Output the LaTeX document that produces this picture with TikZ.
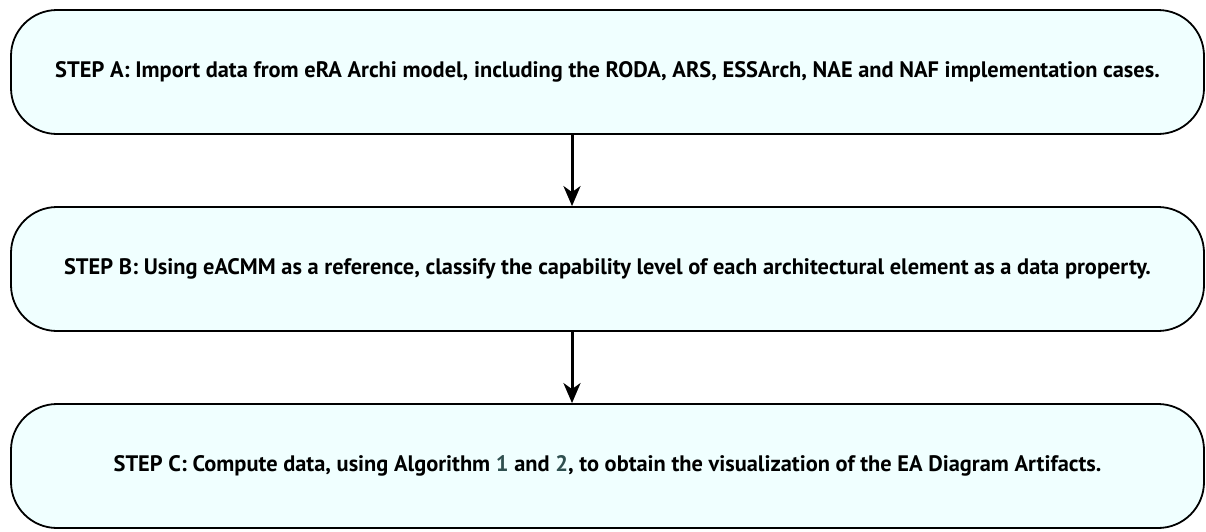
\documentclass[tikz,border=0pt]{standalone}
\usepackage{fontspec}
\setmainfont{PT Sans}
\usetikzlibrary{arrows.meta}
\definecolor{boxfill}{RGB}{240,255,255}
\definecolor{refcol}{RGB}{47,79,79}
\begin{document}
\begin{tikzpicture}[x=1pt,y=-1pt,
  stepbox/.style={draw=black, line width=1.8pt, fill=boxfill, rounded corners=46pt,
    minimum width=1193pt, minimum height=124pt, inner sep=0pt,
    font=\fontsize{22.4}{26}\selectfont\bfseries},
  conn/.style={line width=3pt, -{Stealth[length=20pt,width=17pt,inset=6pt]}}]
\useasboundingbox (0,0) rectangle (1206,531);
\node[stepbox] (a) at (607.5,72) {STEP A: Import data from eRA Archi model, including the RODA, ARS, ESSArch, NAE and NAF implementation cases.};
\node[stepbox] (b) at (607.5,269) {STEP B: Using eACMM as a reference, classify the capability level of each architectural element as a data property.};
\node[stepbox] (c) at (607.5,466) {STEP C: Compute data, using Algorithm {\color{refcol}1} and {\color{refcol}2}, to obtain the visualization of the EA Diagram Artifacts.};
\coordinate (ax) at (572,0);
\draw[conn] (a.south -| ax) -- (b.north -| ax);
\draw[conn] (b.south -| ax) -- (c.north -| ax);
\end{tikzpicture}
\end{document}
